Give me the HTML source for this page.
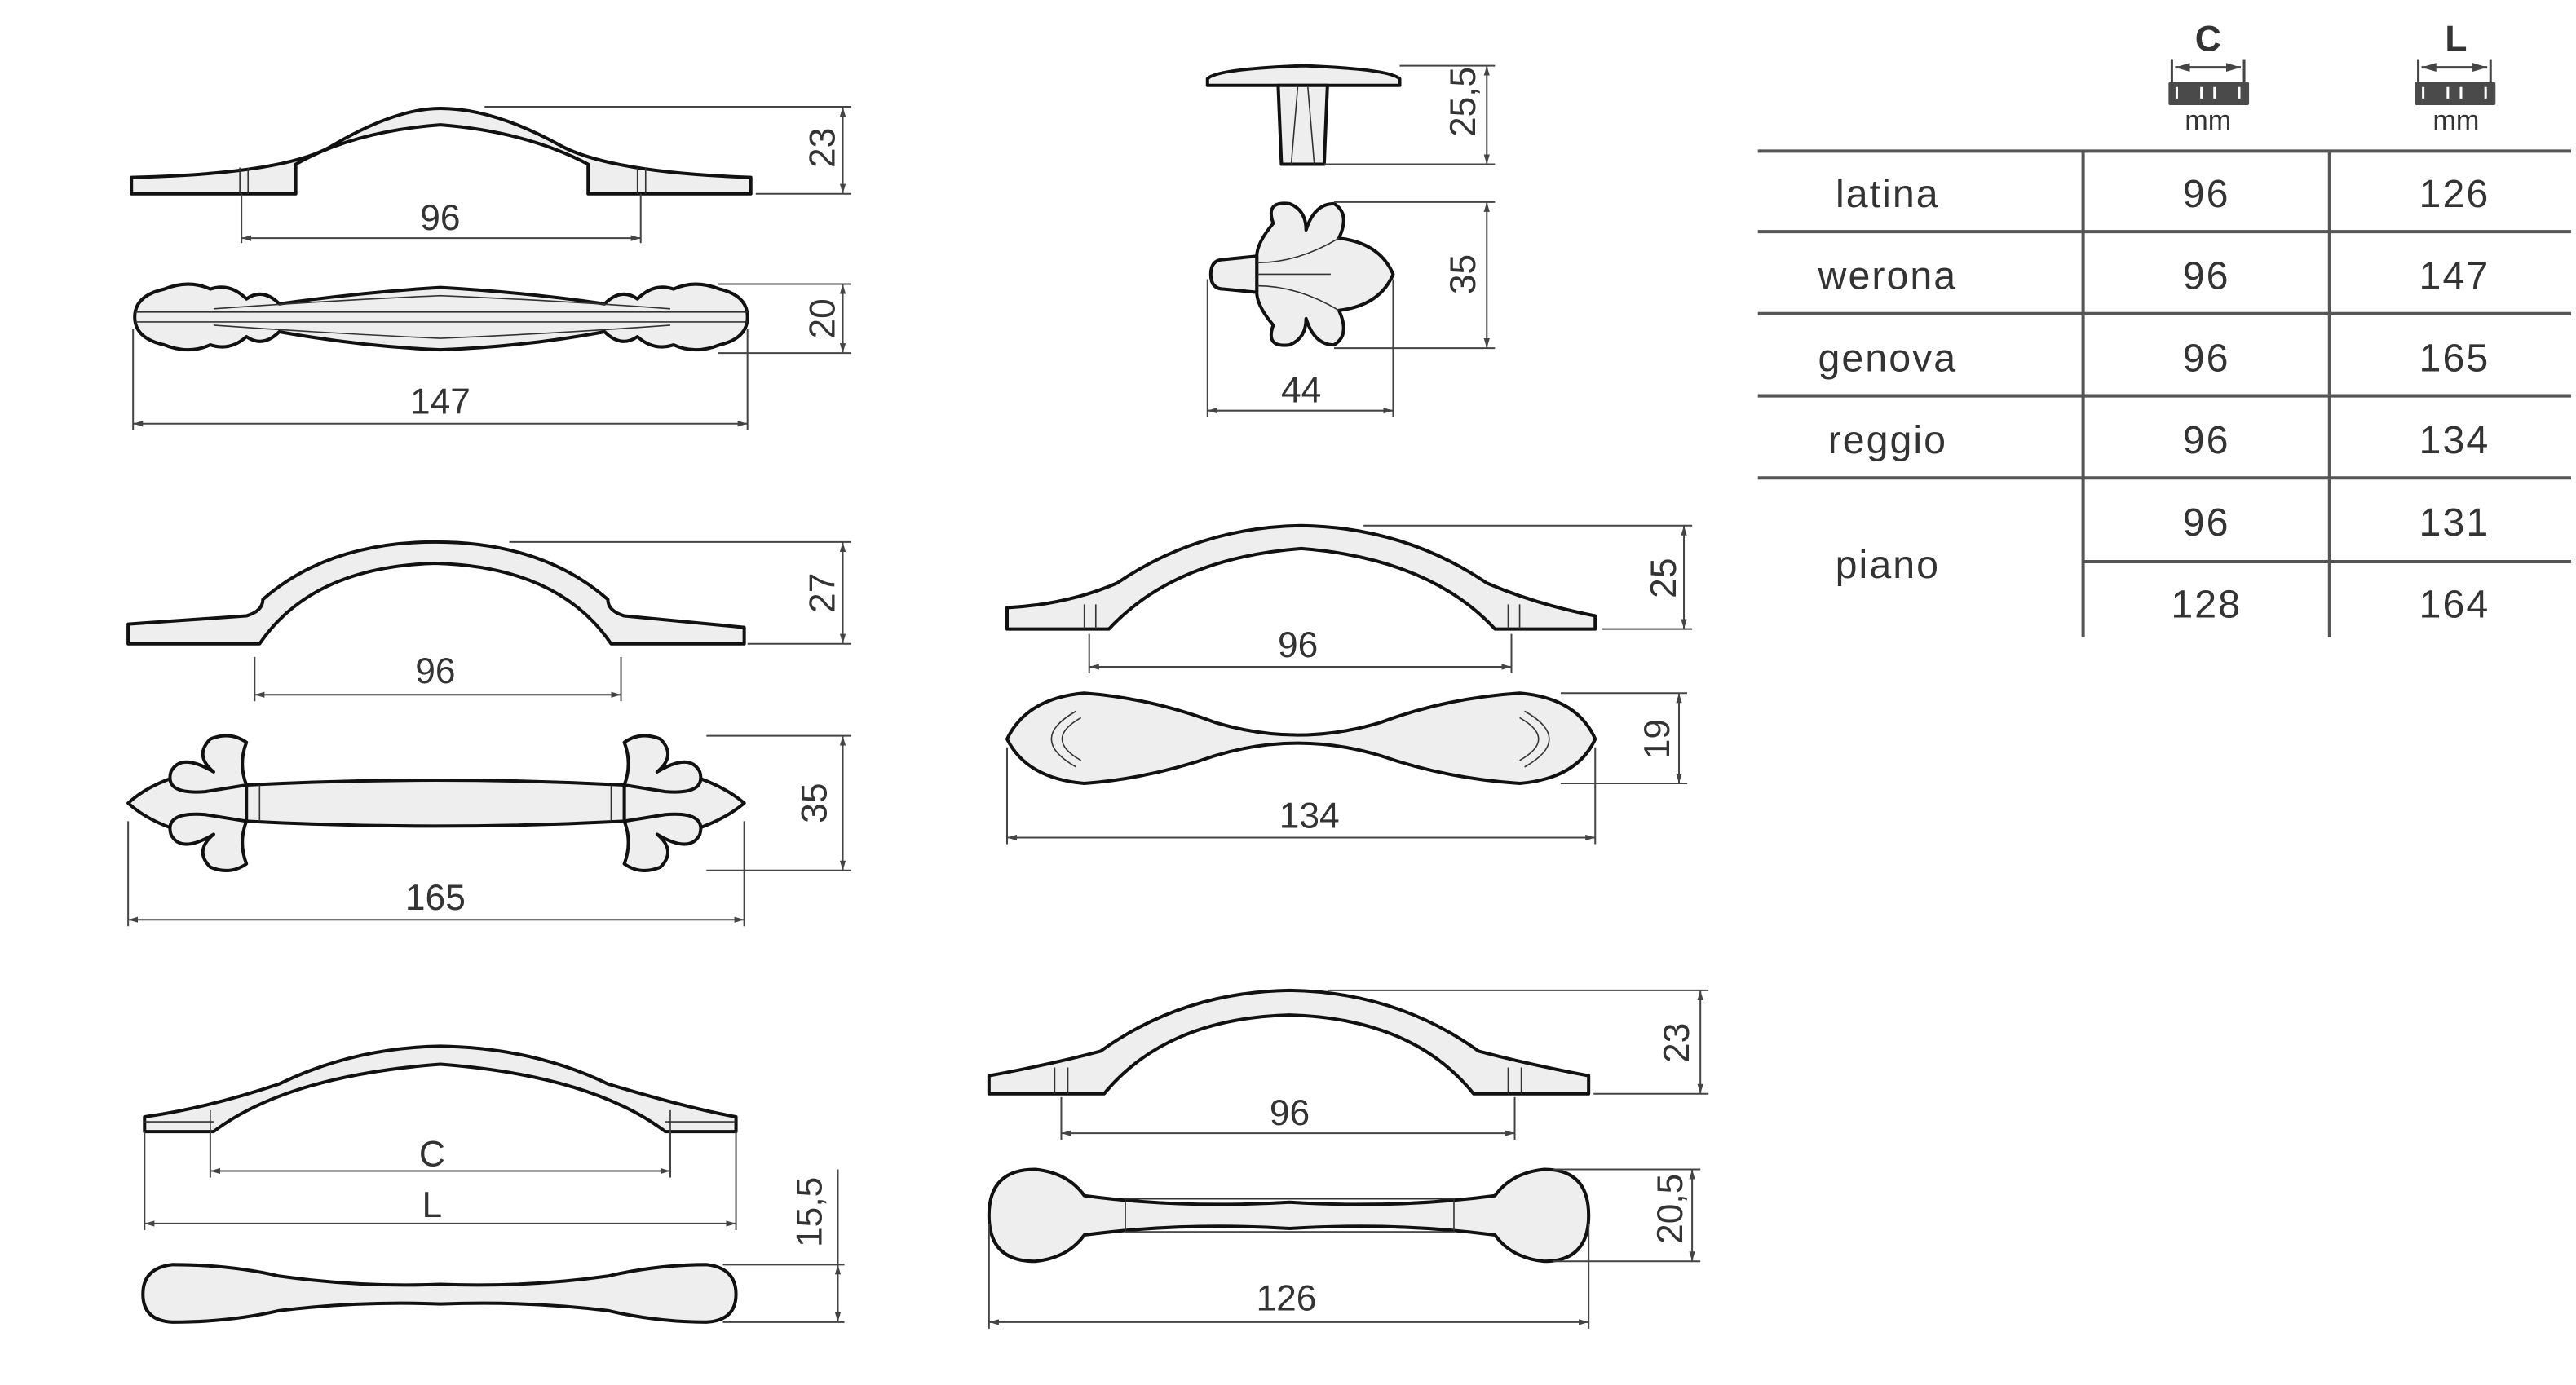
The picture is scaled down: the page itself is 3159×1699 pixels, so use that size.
<!DOCTYPE html>
<html><head><meta charset="utf-8"><style>
html,body{margin:0;padding:0;background:#fff;}
svg{display:block}
text{font-family:"Liberation Sans",sans-serif;fill:#333}
.h{fill:#eeeeee;stroke:#111;stroke-width:2;stroke-linejoin:round}
.t{fill:none;stroke:#333;stroke-width:0.8}
.d{stroke:#444;stroke-width:1;fill:none}
.dt{font-size:22px;text-anchor:middle}
.tb{stroke:#555;stroke-width:2}
.tt{font-size:24px;text-anchor:middle;fill:#444;letter-spacing:1px}
</style></head><body>
<svg width="3159" height="1699" viewBox="0 0 1568 843.3" xmlns="http://www.w3.org/2000/svg">
<defs>
<marker id="a" viewBox="0 0 10 10" refX="10" refY="5" markerWidth="6" markerHeight="6" orient="auto-start-reverse"><path d="M0,2 L10,5 L0,8z" fill="#444"/></marker>
</defs>

<!-- Handle 1 side -->
<path class="h" d="M80,108 Q170,106 200,90 Q240,66 268,66 Q300,66 340,88 Q370,105 457,108 L457,118 L358,118 L358,100 Q320,80 268,76 Q215,80 180,100 L180,118 L80,118 Z"/>
<path class="t" d="M146,102 v16 M151,102 v16 M388,102 v16 M393,102 v16"/>
<g class="d"><line x1="295" y1="65" x2="518" y2="65"/><line x1="460" y1="118" x2="518" y2="118"/><line x1="513" y1="65" x2="513" y2="118" marker-start="url(#a)" marker-end="url(#a)"/>
<line x1="147" y1="118" x2="147" y2="148"/><line x1="390" y1="118" x2="390" y2="148"/><line x1="147" y1="145" x2="390" y2="145" marker-start="url(#a)" marker-end="url(#a)"/></g>
<text class="dt" transform="translate(508,90) rotate(-90)">23</text>
<text class="dt" x="268" y="140">96</text>

<!-- Handle 1 top -->
<path class="h" d="M82,193 Q82,180 100,176 Q115,170 128,176 Q140,172 150,182 Q160,175 170,185 Q220,178 268,175 Q320,178 368,185 Q378,175 388,182 Q398,172 410,176 Q423,170 438,176 Q455,180 455,193 Q455,206 438,210 Q423,216 410,210 Q398,214 388,205 Q378,212 368,202 Q320,211 268,213 Q220,211 170,202 Q160,212 150,205 Q140,214 128,210 Q115,216 100,210 Q82,206 82,193 Z"/>
<path class="t" d="M82,190 H455 M82,196 H455 M130,188 Q200,183 268,180 Q340,183 408,188 M130,198 Q200,203 268,206 Q340,203 408,198"/>
<g class="d"><line x1="437" y1="173" x2="518" y2="173"/><line x1="437" y1="215" x2="518" y2="215"/><line x1="513" y1="173" x2="513" y2="215" marker-start="url(#a)" marker-end="url(#a)"/>
<line x1="81" y1="200" x2="81" y2="262"/><line x1="455" y1="200" x2="455" y2="262"/><line x1="81" y1="258" x2="455" y2="258" marker-start="url(#a)" marker-end="url(#a)"/></g>
<text class="dt" transform="translate(508,194) rotate(-90)">20</text>
<text class="dt" x="268" y="252">147</text>

<!-- Handle 2 side -->
<path class="h" d="M78,380 L150,375 Q160,372 160,365 Q200,330 265,330 Q330,330 370,365 Q370,372 380,375 L453,382 L453,392 L372,392 Q340,345 265,343 Q190,345 158,392 L78,392 Z"/>
<g class="d"><line x1="310" y1="330" x2="518" y2="330"/><line x1="455" y1="392" x2="518" y2="392"/><line x1="513" y1="330" x2="513" y2="392" marker-start="url(#a)" marker-end="url(#a)"/>
<line x1="155" y1="400" x2="155" y2="427"/><line x1="378" y1="400" x2="378" y2="427"/><line x1="155" y1="423" x2="378" y2="423" marker-start="url(#a)" marker-end="url(#a)"/></g>
<text class="dt" transform="translate(508,361) rotate(-90)">27</text>
<text class="dt" x="265" y="416">96</text>

<!-- Handle 2 top: fleur ends -->
<g class="h">
<path d="M150,478 Q130,468 110,472 Q90,478 78,489 Q90,500 110,506 Q130,510 150,500 Z"/>
<path d="M150,478 Q145,465 150,452 Q140,445 128,450 Q118,460 130,470 Q110,458 104,470 Q100,484 125,482 Z"/>
<path d="M150,500 Q145,513 150,526 Q140,533 128,528 Q118,518 130,508 Q110,520 104,508 Q100,494 125,496 Z"/>
<path d="M380,478 Q400,468 420,472 Q440,478 453,489 Q440,500 420,506 Q400,510 380,500 Z"/>
<path d="M380,478 Q385,465 380,452 Q390,445 402,450 Q412,460 400,470 Q420,458 426,470 Q430,484 405,482 Z"/>
<path d="M380,500 Q385,513 380,526 Q390,533 402,528 Q412,518 400,508 Q420,520 426,508 Q430,494 405,496 Z"/>
<path d="M150,478 Q265,472 380,478 L380,500 Q265,506 150,500 Z"/>
</g>
<path class="t" d="M158,478 V500 M372,478 V500"/>
<g class="d"><line x1="430" y1="448" x2="518" y2="448"/><line x1="430" y1="530" x2="518" y2="530"/><line x1="513" y1="448" x2="513" y2="530" marker-start="url(#a)" marker-end="url(#a)"/>
<line x1="78" y1="500" x2="78" y2="564"/><line x1="453" y1="500" x2="453" y2="564"/><line x1="78" y1="560" x2="453" y2="560" marker-start="url(#a)" marker-end="url(#a)"/></g>
<text class="dt" transform="translate(503,489) rotate(-90)">35</text>
<text class="dt" x="265" y="554">165</text>

<!-- Handle 3 side -->
<path class="h" d="M88,680 Q125,675 170,660 Q215,638 268,637 Q325,638 370,660 Q420,675 448,680 L448,689 L405,689 Q360,655 268,648 Q175,655 130,689 L88,689 Z"/>
<path class="t" d="M88,683 H130 M405,683 H448 M128,676 V689 M408,676 V689"/>
<g class="d"><line x1="128" y1="689" x2="128" y2="717"/><line x1="408" y1="689" x2="408" y2="717"/><line x1="128" y1="713" x2="408" y2="713" marker-start="url(#a)" marker-end="url(#a)"/>
<line x1="88" y1="689" x2="88" y2="749"/><line x1="448" y1="689" x2="448" y2="749"/><line x1="88" y1="745" x2="448" y2="745" marker-start="url(#a)" marker-end="url(#a)"/></g>
<text class="dt" x="263" y="710">C</text>
<text class="dt" x="263" y="741">L</text>

<!-- Handle 3 top -->
<path class="h" d="M105,770 Q140,770 170,777 Q220,784 268,782 Q320,784 370,777 Q400,770 430,770 Q448,772 448,788 Q448,804 430,805 Q400,805 370,798 Q320,792 268,794 Q220,792 170,798 Q140,805 105,805 Q87,804 87,788 Q87,772 105,770 Z"/>
<g class="d"><line x1="440" y1="770" x2="514" y2="770"/><line x1="440" y1="805" x2="514" y2="805"/><line x1="510" y1="712" x2="510" y2="805"/><line x1="510" y1="780" x2="510" y2="770" marker-end="url(#a)"/><line x1="510" y1="795" x2="510" y2="805" marker-end="url(#a)"/></g>
<text class="dt" transform="translate(500,738) rotate(-90)">15,5</text>

<!-- Knob side -->
<path class="h" d="M735,48 Q740,42 793,40 Q846,42 852,48 L852,52 L735,52 Z"/>
<path class="h" d="M778,52 L808,52 L806,100 L780,100 Z"/>
<path class="t" d="M790,52 L786,100 M796,52 L800,100"/>
<g class="d"><line x1="852" y1="40" x2="910" y2="40"/><line x1="806" y1="100" x2="910" y2="100"/><line x1="905" y1="40" x2="905" y2="100" marker-start="url(#a)" marker-end="url(#a)"/></g>
<text class="dt" transform="translate(898,62) rotate(-90)">25,5</text>

<!-- Knob top flower -->
<g class="h">
<path d="M765,156 Q765,148 775,136 Q770,122 785,124 Q795,128 795,140 Q800,124 812,124 Q822,130 815,145 Q840,148 848,167 Q840,186 815,189 Q822,204 812,210 Q800,210 795,194 Q795,206 785,210 Q770,212 775,198 Q765,186 765,178 Z"/>
<path d="M737,167 Q737,158 745,158 L765,156 L765,178 L745,176 Q737,176 737,167 Z"/>
</g>
<path class="t" d="M765,160 Q790,160 815,145 M765,174 Q790,174 815,189 M765,167 H810"/>
<g class="d"><line x1="812" y1="123" x2="910" y2="123"/><line x1="812" y1="212" x2="910" y2="212"/><line x1="905" y1="123" x2="905" y2="212" marker-start="url(#a)" marker-end="url(#a)"/>
<line x1="735" y1="170" x2="735" y2="254"/><line x1="848" y1="170" x2="848" y2="254"/><line x1="735" y1="250" x2="848" y2="250" marker-start="url(#a)" marker-end="url(#a)"/></g>
<text class="dt" transform="translate(898,167) rotate(-90)">35</text>
<text class="dt" x="792" y="245">44</text>

<!-- Handle 4 side -->
<path class="h" d="M613,370 Q650,368 680,355 Q730,321 792,320 Q855,321 905,355 Q935,368 971,375 L971,383 L910,383 Q870,340 792,334 Q715,340 675,383 L613,383 Z"/>
<path class="t" d="M660,368 v15 M667,368 v15 M918,368 v15 M925,368 v15"/>
<g class="d"><line x1="830" y1="320" x2="1030" y2="320"/><line x1="975" y1="383" x2="1030" y2="383"/><line x1="1025" y1="320" x2="1025" y2="383" marker-start="url(#a)" marker-end="url(#a)"/>
<line x1="663" y1="386" x2="663" y2="410"/><line x1="920" y1="386" x2="920" y2="410"/><line x1="663" y1="406" x2="920" y2="406" marker-start="url(#a)" marker-end="url(#a)"/></g>
<text class="dt" transform="translate(1020,352) rotate(-90)">25</text>
<text class="dt" x="790" y="400">96</text>

<!-- Handle 4 top -->
<path class="h" d="M613,450 Q625,425 660,422 Q700,425 740,440 Q790,455 840,440 Q880,425 925,422 Q960,425 971,450 Q960,474 925,477 Q880,474 840,460 Q790,445 740,460 Q700,474 660,477 Q625,474 613,450 Z"/>
<path class="t" d="M655,433 Q625,450 655,467 M658,437 Q635,450 658,463 M928,433 Q958,450 928,467 M925,437 Q948,450 925,463"/>
<g class="d"><line x1="950" y1="422" x2="1027" y2="422"/><line x1="950" y1="477" x2="1027" y2="477"/><line x1="1022" y1="422" x2="1022" y2="477" marker-start="url(#a)" marker-end="url(#a)"/>
<line x1="613" y1="455" x2="613" y2="514"/><line x1="971" y1="455" x2="971" y2="514"/><line x1="613" y1="510" x2="971" y2="510" marker-start="url(#a)" marker-end="url(#a)"/></g>
<text class="dt" transform="translate(1016,450) rotate(-90)">19</text>
<text class="dt" x="797" y="504">134</text>

<!-- Handle 5 side -->
<path class="h" d="M602,655 Q640,648 670,640 Q720,604 785,603 Q850,604 900,640 Q930,648 967,655 L967,666 L897,666 Q860,620 785,618 Q710,620 672,666 L602,666 Z"/>
<path class="t" d="M642,650 v16 M650,650 v16 M918,650 v16 M926,650 v16"/>
<g class="d"><line x1="808" y1="603" x2="1040" y2="603"/><line x1="970" y1="666" x2="1040" y2="666"/><line x1="1035" y1="603" x2="1035" y2="666" marker-start="url(#a)" marker-end="url(#a)"/>
<line x1="646" y1="668" x2="646" y2="694"/><line x1="922" y1="668" x2="922" y2="694"/><line x1="646" y1="690" x2="922" y2="690" marker-start="url(#a)" marker-end="url(#a)"/></g>
<text class="dt" transform="translate(1028,635) rotate(-90)">23</text>
<text class="dt" x="785" y="685">96</text>

<!-- Handle 5 top -->
<path class="h" d="M602,740 Q602,712 630,712 Q650,714 660,728 Q720,736 785,732 Q850,736 910,728 Q920,714 940,712 Q967,712 967,740 Q967,768 940,768 Q920,766 910,752 Q850,744 785,748 Q720,744 660,752 Q650,766 630,768 Q602,768 602,740 Z"/>
<path class="t" d="M685,730 L885,730 L885,750 L685,750 Z"/>
<g class="d"><line x1="945" y1="712" x2="1035" y2="712"/><line x1="945" y1="768" x2="1035" y2="768"/><line x1="1030" y1="712" x2="1030" y2="768" marker-start="url(#a)" marker-end="url(#a)"/>
<line x1="602" y1="745" x2="602" y2="809"/><line x1="967" y1="745" x2="967" y2="809"/><line x1="602" y1="805" x2="967" y2="805" marker-start="url(#a)" marker-end="url(#a)"/></g>
<text class="dt" transform="translate(1024,736) rotate(-90)">20,5</text>
<text class="dt" x="783" y="798">126</text>

<!-- Table header icons -->
<g>
<text x="1344" y="31" font-size="22" font-weight="bold" text-anchor="middle" fill="#444">C</text>
<line x1="1322" y1="36" x2="1322" y2="50" stroke="#444" stroke-width="1.5"/><line x1="1366" y1="36" x2="1366" y2="50" stroke="#444" stroke-width="1.5"/>
<line x1="1324" y1="41" x2="1364" y2="41" stroke="#444" stroke-width="1.5" marker-start="url(#a)" marker-end="url(#a)"/>
<rect x="1320" y="50" width="49" height="14" rx="1" fill="#4a4a4a"/>
<path d="M1325,53v7 M1340,53v7 M1348,53v7 M1363,53v7" stroke="#fff" stroke-width="1.5"/>
<text x="1344" y="79" font-size="17" text-anchor="middle" fill="#444">mm</text>
<text x="1495" y="31" font-size="22" font-weight="bold" text-anchor="middle" fill="#444">L</text>
<line x1="1472" y1="36" x2="1472" y2="50" stroke="#444" stroke-width="1.5"/><line x1="1516" y1="36" x2="1516" y2="50" stroke="#444" stroke-width="1.5"/>
<line x1="1474" y1="41" x2="1514" y2="41" stroke="#444" stroke-width="1.5" marker-start="url(#a)" marker-end="url(#a)"/>
<rect x="1470" y="50" width="49" height="14" rx="1" fill="#4a4a4a"/>
<path d="M1475,53v7 M1490,53v7 M1498,53v7 M1513,53v7" stroke="#fff" stroke-width="1.5"/>
<text x="1495" y="79" font-size="17" text-anchor="middle" fill="#444">mm</text>
</g>

<!-- Table lines -->
<g class="tb">
<line x1="1070" y1="92" x2="1565" y2="92"/>
<line x1="1070" y1="141" x2="1565" y2="141"/>
<line x1="1070" y1="191" x2="1565" y2="191"/>
<line x1="1070" y1="241" x2="1565" y2="241"/>
<line x1="1070" y1="291" x2="1565" y2="291"/>
<line x1="1268" y1="342" x2="1565" y2="342"/>
<line x1="1268" y1="92" x2="1268" y2="388"/>
<line x1="1418" y1="92" x2="1418" y2="388"/>
</g>
<g class="tt">
<text x="1149" y="126">latina</text><text x="1343" y="126">96</text><text x="1494" y="126">126</text>
<text x="1149" y="176">werona</text><text x="1343" y="176">96</text><text x="1494" y="176">147</text>
<text x="1149" y="226">genova</text><text x="1343" y="226">96</text><text x="1494" y="226">165</text>
<text x="1149" y="276">reggio</text><text x="1343" y="276">96</text><text x="1494" y="276">134</text>
<text x="1149" y="352">piano</text><text x="1343" y="326">96</text><text x="1494" y="326">131</text>
<text x="1343" y="376">128</text><text x="1494" y="376">164</text>
</g>
</svg>
</body></html>
